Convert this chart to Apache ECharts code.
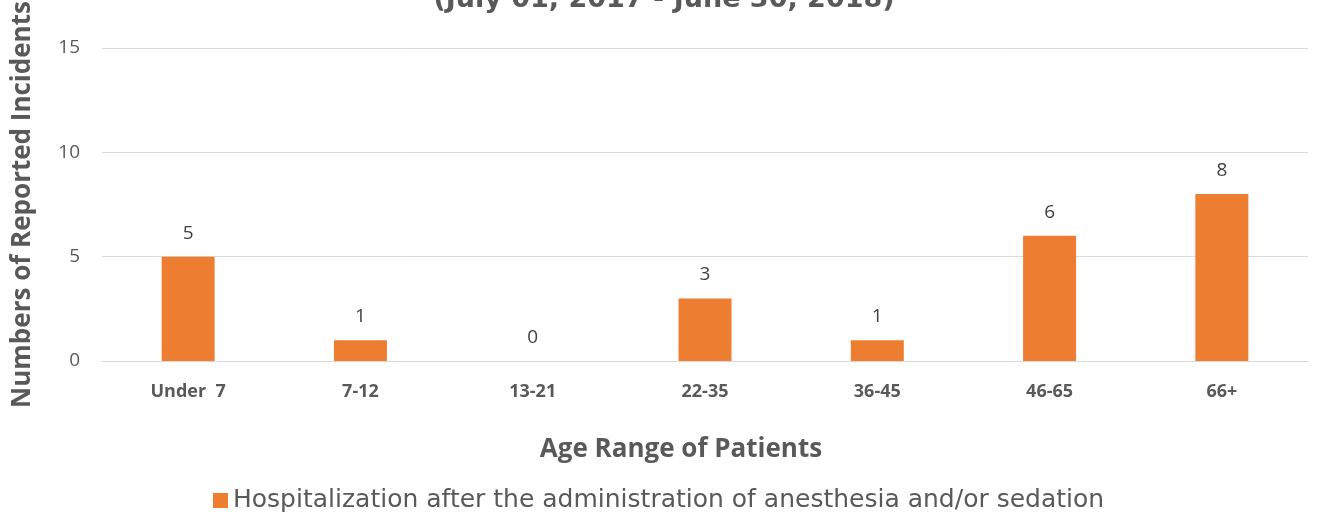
<!DOCTYPE html>
<html><head><meta charset="utf-8">
<script src="https://cdn.jsdelivr.net/npm/echarts@6/dist/echarts.min.js"></script>
<style>html,body{margin:0;padding:0;background:#fff}#c{width:1319px;height:520px}</style>
</head><body><div id="c"></div>
<script>
const categories = ['Under  7', '7-12', '13-21', '22-35', '36-45', '46-65', '66+'];
const values = [5, 1, 0, 3, 1, 6, 8];
const yTicks = [0, 5, 10, 15];
const seriesName = 'Hospitalization after the administration of anesthesia and/or sedation';
const titleText = '(July 01, 2017 - June 30, 2018)';
const xName = 'Age Range of Patients';
const yName = 'Numbers of Reported Incidents';

const chart = echarts.init(document.getElementById('c'));
chart.setOption({
  animation: false,
  title: [
    { text: titleText, left: 659, top: -19, textAlign: 'center',
      textStyle: { fontFamily: 'DejaVu Sans', fontWeight: 'bold', fontSize: 27, color: '#595959' } },
    { text: xName, left: 676, top: 432, textAlign: 'center',
      textStyle: { fontFamily: 'Open Sans', fontWeight: 'bold', fontSize: 26, color: '#595959' } }
  ],
  grid: { left: 102, right: 11, top: 48, bottom: 159, containLabel: false, outerBoundsMode: 'none' },
  legend: {
    data: [seriesName], left: 208, top: 483, itemWidth: 15, itemHeight: 15, itemGap: 6,
    icon: 'rect',
    textStyle: { fontFamily: 'DejaVu Sans', fontSize: 25, color: '#595959' }
  },
  xAxis: {
    type: 'category', data: categories,
    axisLine: { lineStyle: { color: '#d9d9d9', width: 1 } },
    axisTick: { show: false },
    axisLabel: { margin: 22, fontFamily: 'Open Sans', fontWeight: 'bold', fontSize: 18, color: '#595959' }
  },
  yAxis: {
    type: 'value', min: yTicks[0], max: yTicks[yTicks.length - 1], interval: 5,
    name: yName, nameLocation: 'middle', nameGap: 66,
    nameTextStyle: { fontFamily: 'Open Sans', fontWeight: 'bold', fontSize: 26, color: '#595959' },
    axisLine: { show: false }, axisTick: { show: false },
    splitLine: { lineStyle: { color: '#d9d9d9', width: 1 } },
    axisLabel: { margin: 22, fontFamily: 'Open Sans', fontSize: 19, color: '#595959' }
  },
  series: [{
    name: seriesName, type: 'bar', data: values, barWidth: 53,
    itemStyle: { color: '#ed7d31' },
    label: { show: true, position: 'top', distance: 14, fontFamily: 'Open Sans', fontSize: 19, color: '#404040' }
  }]
});
</script></body></html>
